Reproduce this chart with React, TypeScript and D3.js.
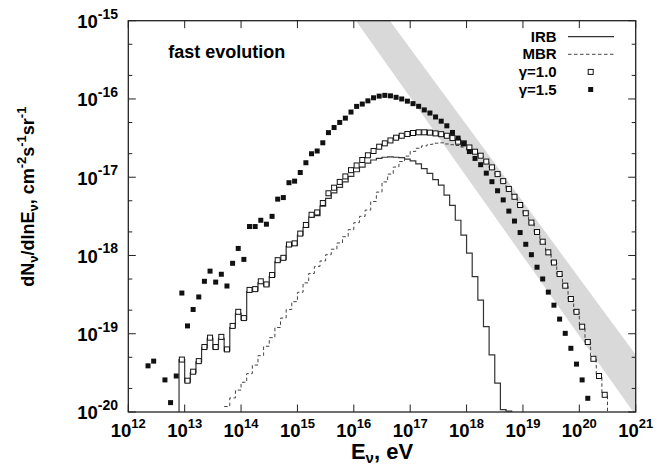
import React from "react";
import * as d3 from "d3";

// ---------- data (log10 E [eV] bin centre, log10 flux) ----------
const irb: [number, number][] = [
  [12.95, -19.33], [13.05, -19.62], [13.15, -19.5], [13.25, -19.36], [13.35, -19.18],
  [13.45, -19.06], [13.55, -19.19], [13.65, -19.06], [13.75, -19.22], [13.85, -18.92],
  [13.95, -18.74], [14.05, -18.82], [14.15, -18.46], [14.25, -18.45], [14.35, -18.35],
  [14.45, -18.39], [14.55, -18.27], [14.65, -18.08], [14.75, -18.05], [14.85, -17.88],
  [14.95, -17.87], [15.05, -17.74], [15.15, -17.64], [15.25, -17.51], [15.35, -17.49],
  [15.45, -17.37], [15.55, -17.27], [15.65, -17.2], [15.75, -17.13], [15.85, -17.06],
  [15.95, -16.99], [16.05, -16.93], [16.15, -16.87], [16.25, -16.82], [16.35, -16.78],
  [16.45, -16.76], [16.55, -16.745], [16.65, -16.74], [16.75, -16.745], [16.85, -16.75],
  [16.95, -16.77], [17.05, -16.79], [17.15, -16.83], [17.25, -16.89], [17.35, -16.95],
  [17.45, -17.03], [17.55, -17.1], [17.65, -17.23], [17.75, -17.36], [17.85, -17.55],
  [17.95, -17.74], [18.05, -17.97], [18.15, -18.27], [18.25, -18.57], [18.35, -18.91],
  [18.45, -19.27], [18.55, -19.63], [18.65, -19.97], [18.75, -19.99],
];

const mbr: [number, number][] = [
  [13.75, -19.93], [13.85, -19.82], [13.95, -19.72], [14.05, -19.62], [14.15, -19.51],
  [14.25, -19.4], [14.35, -19.28], [14.45, -19.16], [14.55, -19.05], [14.65, -18.92],
  [14.75, -18.8], [14.85, -18.69], [14.95, -18.59], [15.05, -18.47], [15.15, -18.35],
  [15.25, -18.23], [15.35, -18.14], [15.45, -18.07], [15.55, -17.99], [15.65, -17.92],
  [15.75, -17.84], [15.85, -17.76], [15.95, -17.67], [16.05, -17.58], [16.15, -17.5],
  [16.25, -17.42], [16.35, -17.31], [16.45, -17.19], [16.55, -17.06], [16.65, -16.96],
  [16.75, -16.87], [16.85, -16.8], [16.95, -16.73], [17.05, -16.67], [17.15, -16.63],
  [17.25, -16.6], [17.35, -16.58], [17.45, -16.565], [17.55, -16.56], [17.65, -16.575],
  [17.75, -16.585], [17.85, -16.595], [17.95, -16.615], [18.05, -16.645], [18.15, -16.69],
  [18.25, -16.735], [18.35, -16.81], [18.45, -16.88], [18.55, -16.965], [18.65, -17.055],
  [18.75, -17.155], [18.85, -17.255], [18.95, -17.36], [19.05, -17.465], [19.15, -17.585],
  [19.25, -17.705], [19.35, -17.83], [19.45, -17.965], [19.55, -18.095], [19.65, -18.24],
  [19.75, -18.39], [19.85, -18.56], [19.95, -18.725], [20.05, -18.915], [20.15, -19.11],
  [20.25, -19.325], [20.35, -19.545], [20.45, -19.785],
];

const gamma10: [number, number][] = [
  [12.95, -19.33], [13.05, -19.6], [13.15, -19.485], [13.25, -19.35], [13.35, -19.17],
  [13.45, -19.05], [13.55, -19.17], [13.65, -19.04], [13.75, -19.2], [13.85, -18.9],
  [13.95, -18.72], [14.05, -18.8], [14.15, -18.44], [14.25, -18.43], [14.35, -18.33],
  [14.45, -18.37], [14.55, -18.25], [14.65, -18.06], [14.75, -18.03], [14.85, -17.86],
  [14.95, -17.845], [15.05, -17.72], [15.15, -17.61], [15.25, -17.48], [15.35, -17.45],
  [15.45, -17.33], [15.55, -17.205], [15.65, -17.134], [15.75, -17.06], [15.85, -16.99],
  [15.95, -16.91], [16.05, -16.85], [16.15, -16.78], [16.25, -16.72], [16.35, -16.665],
  [16.45, -16.61], [16.55, -16.567], [16.65, -16.53], [16.75, -16.495], [16.85, -16.47],
  [16.95, -16.448], [17.05, -16.435], [17.15, -16.426], [17.25, -16.426], [17.35, -16.43],
  [17.45, -16.44], [17.55, -16.45], [17.65, -16.47], [17.75, -16.5], [17.85, -16.546],
  [17.95, -16.567], [18.05, -16.62], [18.15, -16.674], [18.25, -16.725], [18.35, -16.8],
  [18.45, -16.874], [18.55, -16.96], [18.65, -17.05], [18.75, -17.15], [18.85, -17.25],
  [18.95, -17.355], [19.05, -17.46], [19.15, -17.58], [19.25, -17.7], [19.35, -17.824],
  [19.45, -17.96], [19.55, -18.09], [19.65, -18.237], [19.75, -18.386], [19.85, -18.556],
  [19.95, -18.72], [20.05, -18.91], [20.15, -19.106], [20.25, -19.32], [20.35, -19.54],
  [20.45, -19.78],
];

const gamma15: [number, number][] = [
  [12.35, -19.41], [12.45, -19.35], [12.65, -19.59], [12.75, -19.88], [12.85, -19.54],
  [12.95, -18.48], [13.05, -18.9], [13.15, -18.69], [13.25, -18.53], [13.35, -18.33],
  [13.45, -18.2], [13.55, -18.34], [13.65, -18.24], [13.75, -18.39], [13.85, -18.1],
  [13.95, -17.91], [14.05, -18.05], [14.15, -17.63], [14.25, -17.63], [14.35, -17.55],
  [14.45, -17.6], [14.55, -17.5], [14.65, -17.28], [14.75, -17.26], [14.85, -17.07],
  [14.95, -17.05], [15.05, -16.94], [15.15, -16.815], [15.25, -16.7], [15.35, -16.665],
  [15.45, -16.56], [15.55, -16.43], [15.65, -16.365], [15.75, -16.3], [15.85, -16.245],
  [15.95, -16.167], [16.05, -16.095], [16.15, -16.065], [16.25, -16.024], [16.35, -15.985],
  [16.45, -15.964], [16.55, -15.954], [16.65, -15.96], [16.75, -15.979], [16.85, -16.0],
  [16.95, -16.028], [17.05, -16.06], [17.15, -16.094], [17.25, -16.14], [17.35, -16.18],
  [17.45, -16.23], [17.55, -16.284], [17.65, -16.343], [17.75, -16.428], [17.85, -16.5],
  [17.95, -16.57], [18.05, -16.672], [18.15, -16.76], [18.25, -16.84], [18.35, -16.948],
  [18.45, -17.057], [18.55, -17.173], [18.65, -17.29], [18.75, -17.433], [18.85, -17.56],
  [18.95, -17.707], [19.05, -17.857], [19.15, -17.99], [19.25, -18.15], [19.35, -18.3],
  [19.45, -18.468], [19.55, -18.635], [19.65, -18.813], [19.75, -18.995], [19.85, -19.186],
  [19.95, -19.388], [20.05, -19.59], [20.15, -19.825],
];

// gray band vertices (log10 E, log10 flux)
const band: [number, number][] = [
  [16.037, -15], [16.64, -15], [21, -19.27], [21, -20], [20.957, -20],
];

const xTickExps = [12, 13, 14, 15, 16, 17, 18, 19, 20, 21];
const yTickExps = [-20, -19, -18, -17, -16, -15];
const yMinorMult = [2, 5];
const binHalfWidth = 0.05;

const legendItems = [
  { label: "IRB", kind: "solid" },
  { label: "MBR", kind: "dashed" },
  { label: "γ=1.0", kind: "open" },
  { label: "γ=1.5", kind: "filled" },
];

// ---------- layout ----------
const W = 667;
const H = 465;
const L = 128.3, R = 635.7, T = 20.7, B = 412;
const FONT = "'Liberation Sans', Arial, Helvetica, sans-serif";
const SQ = 5;

export default function App() {
  const x = d3.scaleLog().domain([1e12, 1e21]).range([L, R]);
  const y = d3.scaleLog().domain([1e-20, 1e-15]).range([B, T]);
  const X = (e: number) => x(Math.pow(10, e));
  const Y = (v: number) => y(Math.pow(10, v));

  const stepPath = (bins: [number, number][], fromFloor: boolean, toFloor: boolean) => {
    const pts: [number, number][] = [];
    if (fromFloor) pts.push([X(bins[0][0] - binHalfWidth), B]);
    bins.forEach(([e, v]) => pts.push([X(e - binHalfWidth), Y(v)]));
    const last = bins[bins.length - 1];
    pts.push([X(last[0] + binHalfWidth), Y(last[1])]);
    if (toFloor) pts.push([X(last[0] + binHalfWidth), B]);
    return d3.line().curve(d3.curveStepAfter)(pts) || "";
  };

  const bandPath =
    (d3.line()(band.map(([e, v]) => [X(e), Y(v)] as [number, number])) || "") + "Z";

  const minorY: number[] = [];
  yTickExps.slice(0, -1).forEach((d) =>
    yMinorMult.forEach((m) => minorY.push(Math.log10(m) + d))
  );

  const legendX = 556.7;
  const legendY0 = 41.7;
  const legendDy = 17.6;

  return (
    <svg
      width={W}
      height={H}
      style={{ position: "absolute", left: 0, top: 0, background: "#fff" }}
      fontFamily={FONT}
      fontWeight="bold"
    >
      <defs>
        <clipPath id="frame">
          <rect x={L} y={T} width={R - L} height={B - T} />
        </clipPath>
      </defs>
      <rect x={0} y={0} width={W} height={H} fill="#fff" />

      <g clipPath="url(#frame)">
        <path d={bandPath} fill="#d9d9d9" stroke="none" />
        <path d={stepPath(irb, true, true)} fill="none" stroke="#333" strokeWidth={1.2} />
        <path
          d={stepPath(mbr, false, true)}
          fill="none"
          stroke="#444"
          strokeWidth={1}
          strokeDasharray="3.5,2.5"
        />
        {gamma10.map(([e, v], i) => (
          <rect
            key={"o" + i}
            x={X(e) - SQ / 2}
            y={Y(v) - SQ / 2}
            width={SQ}
            height={SQ}
            fill="#fff"
            stroke="#111"
            strokeWidth={1}
          />
        ))}
        {gamma15.map(([e, v], i) => (
          <rect
            key={"f" + i}
            x={X(e) - SQ / 2}
            y={Y(v) - SQ / 2}
            width={SQ}
            height={SQ}
            fill="#111"
          />
        ))}
      </g>

      {/* frame */}
      <rect x={L} y={T} width={R - L} height={B - T} fill="none" stroke="#222" strokeWidth={1.3} />

      {/* x ticks */}
      {xTickExps.map((e) => (
        <g key={"xt" + e}>
          <line x1={X(e)} x2={X(e)} y1={B} y2={B - 7.5} stroke="#222" strokeWidth={1} />
          <line x1={X(e)} x2={X(e)} y1={T} y2={T + 7.5} stroke="#222" strokeWidth={1} />
          <text x={X(e)} y={437} textAnchor="middle" fontSize={18.5} fill="#000">
            10
            <tspan dy={-9} fontSize={13}>
              {e}
            </tspan>
          </text>
        </g>
      ))}

      {/* y ticks */}
      {yTickExps.map((d) => (
        <g key={"yt" + d}>
          <line x1={L} x2={L + 7.5} y1={Y(d)} y2={Y(d)} stroke="#222" strokeWidth={1} />
          <line x1={R} x2={R - 7.5} y1={Y(d)} y2={Y(d)} stroke="#222" strokeWidth={1} />
          <text x={118} y={Y(d) + 7.3} textAnchor="end" fontSize={18.5} fill="#000">
            10
            <tspan dy={-9.5} fontSize={14}>
              {String(d)}
            </tspan>
          </text>
        </g>
      ))}
      {minorY.map((v, i) => (
        <g key={"ym" + i}>
          <line x1={L} x2={L + 4} y1={Y(v)} y2={Y(v)} stroke="#222" strokeWidth={1} />
          <line x1={R} x2={R - 4} y1={Y(v)} y2={Y(v)} stroke="#222" strokeWidth={1} />
        </g>
      ))}

      {/* axis titles */}
      <text x={(L + R) / 2} y={459} textAnchor="middle" fontSize={22} fill="#000">
        E
        <tspan dy={4} fontSize={15}>
          ν
        </tspan>
        <tspan dy={-4}>, eV</tspan>
      </text>
      <text
        transform={`translate(34,196.7) rotate(-90)`}
        textAnchor="middle"
        fontSize={18}
        fill="#000"
      >
        dN
        <tspan dy={4} fontSize={13}>ν</tspan>
        <tspan dy={-4}>/dlnE</tspan>
        <tspan dy={4} fontSize={13}>ν</tspan>
        <tspan dy={-4}>, cm</tspan>
        <tspan dy={-8} fontSize={13}>-2</tspan>
        <tspan dy={8}>s</tspan>
        <tspan dy={-8} fontSize={13}>-1</tspan>
        <tspan dy={8}>sr</tspan>
        <tspan dy={-8} fontSize={13}>-1</tspan>
      </text>

      {/* annotation */}
      <text x={168.3} y={58.3} fontSize={18} fill="#000">
        fast evolution
      </text>

      {/* legend */}
      {legendItems.map((it, i) => {
        const ty = legendY0 + i * legendDy;
        const my = ty - 5;
        return (
          <g key={it.label}>
            <text x={legendX} y={ty} textAnchor="end" fontSize={15} fill="#000">
              {it.label}
            </text>
            {it.kind === "solid" && (
              <line x1={568} x2={614} y1={my} y2={my} stroke="#333" strokeWidth={1.2} />
            )}
            {it.kind === "dashed" && (
              <line
                x1={568}
                x2={614}
                y1={my}
                y2={my}
                stroke="#444"
                strokeWidth={1}
                strokeDasharray="3.5,2.5"
              />
            )}
            {it.kind === "open" && (
              <rect x={590.7 - SQ / 2} y={my - SQ / 2} width={SQ} height={SQ} fill="#fff" stroke="#111" />
            )}
            {it.kind === "filled" && (
              <rect x={590.7 - SQ / 2} y={my - SQ / 2} width={SQ} height={SQ} fill="#111" />
            )}
          </g>
        );
      })}
    </svg>
  );
}
